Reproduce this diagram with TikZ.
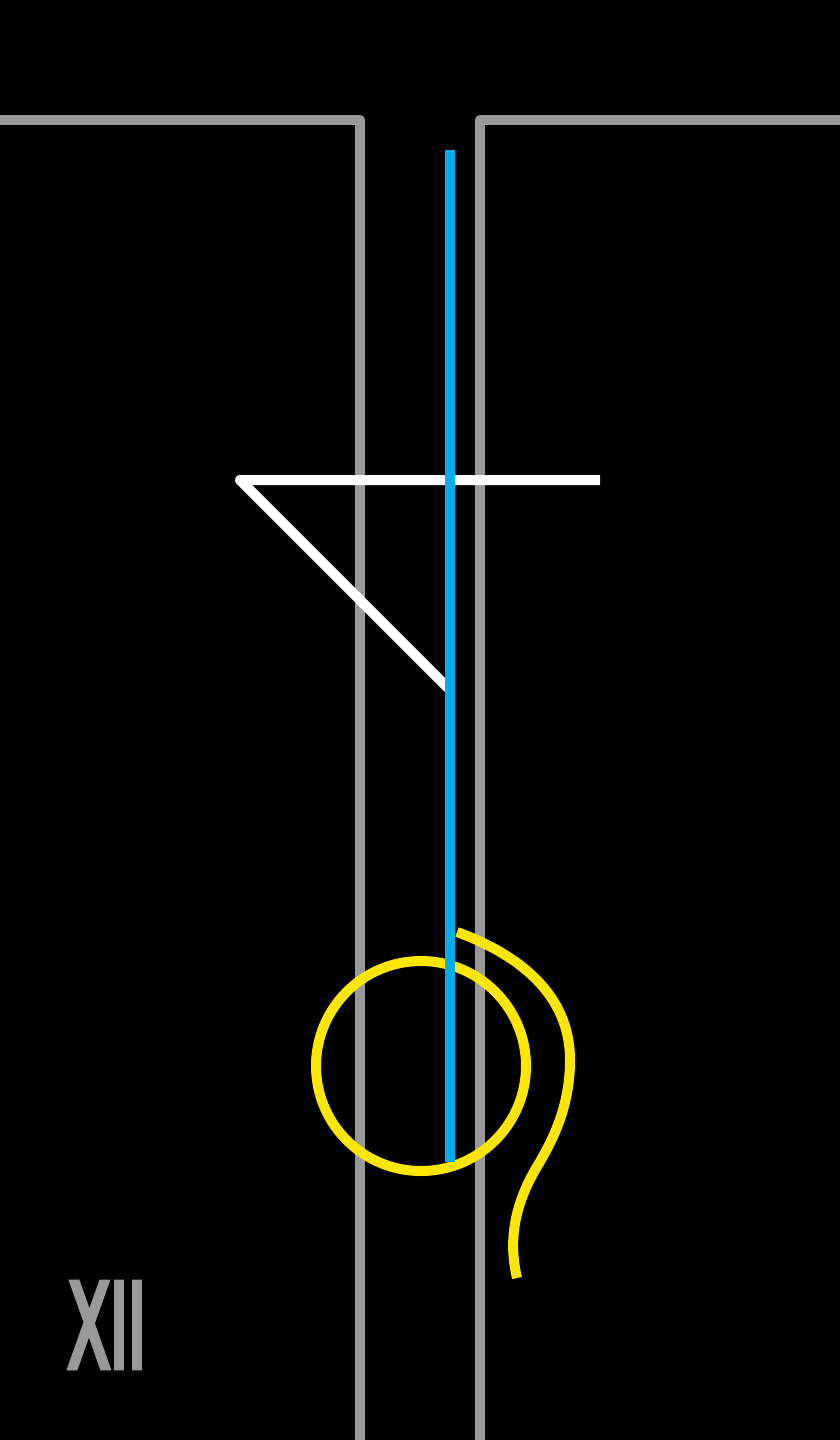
\documentclass[tikz,border=0pt]{standalone}
\usepackage{fontspec}
\usepackage{graphicx}
\usepackage{xcolor}
\newfontfamily\numeralfont[FakeBold=6]{DejaVu Sans}
\usetikzlibrary{positioning, calc}

\definecolor{wallgray}{RGB}{153,153,153}
\definecolor{stemblue}{RGB}{0,174,239}
\definecolor{ringyellow}{RGB}{255,230,0}

\tikzset{
  wall/.style={draw=wallgray, line width=10pt, line join=round},
  stemline/.style={draw=stemblue, line width=10pt},
  pointer/.style={draw=white, line width=10pt, line join=round},
  ringline/.style={draw=ringyellow, line width=10pt},
}

\begin{document}
\begin{tikzpicture}[x=1pt,y=-1pt]

        % Background
        \fill[black] (0,0) rectangle (840,1440);
        \useasboundingbox (0,0) rectangle (840,1440);

        % Walls
        \draw[wall] (0,120) -- (360,120) -- (360,1440);
        \draw[wall] (840,120) -- (480,120) -- (480,1440);

        % Pointer
        \coordinate (corner) at (240,480);
        \coordinate (tip) at (600,480);
        \coordinate (foot) at (450,690);
        \draw[pointer] (tip) -- (corner) -- (foot);

        % Yellow ring and tail
        \coordinate (ringc) at (421,1066);
        \draw[ringline] (ringc) circle[radius=105];
        \draw[ringline] (457,932) .. controls (520,955) and (570,995) .. (570,1060)
              .. controls (570,1110) and (550,1145) .. (535,1170)
              .. controls (515,1205) and (508,1240) .. (517,1278);

        % Blue stem
        \coordinate (stemtop) at (450,150);
        \coordinate (stembot) at (450,1162);
        \draw[stemline] (stemtop) -- (stembot);

        % Numeral
        \node[inner sep=0pt, text=wallgray] (numeral) at (107,1325)
              {\resizebox{78pt}{84pt}{\numeralfont XII}};

\end{tikzpicture}
\end{document}
